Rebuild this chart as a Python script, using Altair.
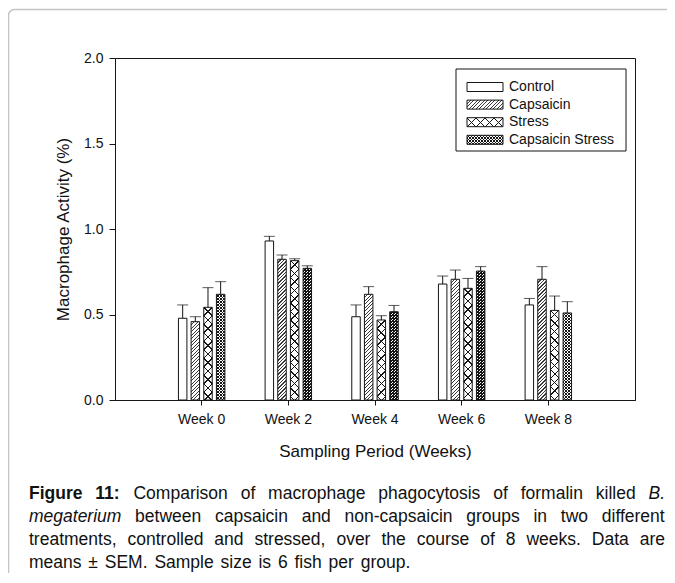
import math
import altair as alt

# ---------------- data ----------------
weeks = ["Week 0", "Week 2", "Week 4", "Week 6", "Week 8"]
groups = ["Control", "Capsaicin", "Stress", "Capsaicin Stress"]

control_mean = [0.478, 0.930, 0.487, 0.678, 0.556]
control_sem = [0.078, 0.027, 0.069, 0.047, 0.038]
capsaicin_mean = [0.458, 0.823, 0.618, 0.706, 0.706]
capsaicin_sem = [0.029, 0.025, 0.045, 0.054, 0.074]
stress_mean = [0.542, 0.815, 0.468, 0.653, 0.524]
stress_sem = [0.115, 0.011, 0.025, 0.058, 0.084]
capstress_mean = [0.618, 0.770, 0.516, 0.754, 0.509]
capstress_sem = [0.074, 0.015, 0.037, 0.026, 0.066]

y_ticks = [0.0, 0.5, 1.0, 1.5, 2.0]
y_title = "Macrophage Activity (%)"
x_title = "Sampling Period (Weeks)"

caption_lines = [
    [("Figure", "bold"), ("11:", "bold"), ("Comparison", "normal"), ("of", "normal"),
     ("macrophage", "normal"), ("phagocytosis", "normal"), ("of", "normal"),
     ("formalin", "normal"), ("killed", "normal"), ("B.", "italic")],
    [("megaterium", "italic"), ("between", "normal"), ("capsaicin", "normal"), ("and", "normal"),
     ("non-capsaicin", "normal"), ("groups", "normal"), ("in", "normal"), ("two", "normal"),
     ("different", "normal")],
    [("treatments,", "normal"), ("controlled", "normal"), ("and", "normal"), ("stressed,", "normal"),
     ("over", "normal"), ("the", "normal"), ("course", "normal"), ("of", "normal"), ("8", "normal"),
     ("weeks.", "normal"), ("Data", "normal"), ("are", "normal")],
    [("means", "normal"), ("±", "normal"), ("SEM.", "normal"), ("Sample", "normal"), ("size", "normal"),
     ("is", "normal"), ("6", "normal"), ("fish", "normal"), ("per", "normal"), ("group.", "normal")],
]

series = {
    "Control": (control_mean, control_sem),
    "Capsaicin": (capsaicin_mean, capsaicin_sem),
    "Stress": (stress_mean, stress_sem),
    "Capsaicin Stress": (capstress_mean, capstress_sem),
}

# ---------------- layout / style ----------------
FONT = "Liberation Sans"
INK = "#151515"
WHITE = "#ffffff"
CLEAR = "rgba(255,255,255,0)"
W, H = 520, 342
Y_MAX = 2.0
PX = H / Y_MAX
PI, PO, SPI = 0.464, 0.732, 0.33
step = W / (len(weeks) - PI + 2 * PO)
band = step * (1 - PI)
BAR_W = band / (len(groups) - SPI) * (1 - SPI)


def stripes(w, h, direction, period, thick, bg, ink=INK):
    """Linear gradient (bounding-box units) that draws 45-degree hatch lines."""
    h = max(h, 1.0)
    L = w + h
    a = (1 / h + 1 / w) / (1 / h ** 2 + 1 / w ** 2)
    if direction == "/":
        x1, y1, x2, y2 = 0, 0, a / h, a / w
        off = 0.0
    else:
        x1, y1, x2, y2 = 0, 1, a / h, 1 - a / w
        off = h % period
    stops = [{"offset": 0, "color": bg}]
    k = -1
    while True:
        s = off + k * period - thick / 2
        if s > L:
            break
        e = s + thick
        s0, e0 = max(s, 0.0), min(e, L)
        if e0 > s0:
            so, eo = round(s0 / L, 5), round(e0 / L, 5)
            stops += [{"offset": so, "color": bg}, {"offset": so, "color": ink},
                      {"offset": eo, "color": ink}, {"offset": eo, "color": bg}]
        k += 1
    stops.append({"offset": 1, "color": bg})
    return {"gradient": "linear", "x1": round(x1, 6), "y1": round(y1, 6),
            "x2": round(x2, 6), "y2": round(y2, 6), "stops": stops}


def fills(group, w, h, big):
    if group == "Control":
        return WHITE, CLEAR
    if group == "Capsaicin":
        return stripes(w, h, "/", 3.5, 1.15, WHITE, "#3a3a3a"), CLEAR
    if group == "Stress":
        return stripes(w, h, "\\", big, 1.3, WHITE), stripes(w, h, "/", big, 1.3, CLEAR)
    return stripes(w, h, "\\", 3.0, 1.2, WHITE), stripes(w, h, "/", 3.0, 1.2, CLEAR)


bar_rows = []
for g in groups:
    means, sems = series[g]
    for i, wk in enumerate(weeks):
        g1, g2 = fills(g, BAR_W, means[i] * PX, BAR_W)
        bar_rows.append({"week": wk, "group": g, "mean": means[i],
                         "upper": means[i] + sems[i], "g1": g1, "g2": g2})

legend_rows = []
for i, g in enumerate(groups):
    g1, g2 = fills(g, 36, 9, 9)
    c = 29 + i * 17.6
    legend_rows.append({"group": g, "g1": g1, "g2": g2, "ly0": c - 4.5, "ly1": c + 4.5, "lyc": c})

# caption word layout (Arial / Liberation Sans advance widths, 1/1000 em)
REG = {" ": 278, ",": 278, "-": 333, ".": 278, ":": 278, "±": 549, "B": 667, "C": 722, "D": 722,
       "E": 667, "F": 611, "M": 833, "S": 667, "a": 556, "b": 556, "c": 500, "d": 556, "e": 556,
       "f": 278, "g": 556, "h": 556, "i": 222, "k": 500, "l": 222, "m": 833, "n": 556, "o": 556,
       "p": 556, "r": 333, "s": 500, "t": 278, "u": 556, "v": 500, "w": 722, "y": 500, "z": 500}
for dgt in "0123456789":
    REG[dgt] = 556
BOLD = {"F": 611, "i": 278, "g": 611, "u": 611, "r": 389, "e": 556, "1": 556, ":": 333}
CAP_FS = 17.5
CAP_L, CAP_R = 29 - 115, 665 - 115
CAP_Y0, CAP_DY = 441, 23
LAST_GAP = 0.39 * CAP_FS


def word_w(word, style):
    table = BOLD if style == "bold" else REG
    return sum(table.get(ch, 556) for ch in word) * CAP_FS / 1000


caption_rows = []
for li, line in enumerate(caption_lines):
    widths = [word_w(t, s) for t, s in line]
    if li < len(caption_lines) - 1:
        gap = (CAP_R - CAP_L - sum(widths)) / (len(line) - 1)
    else:
        gap = LAST_GAP
    xpos = CAP_L
    for (t, s), wdt in zip(line, widths):
        caption_rows.append({"text": t, "style": s, "cx": xpos, "cy": CAP_Y0 + li * CAP_DY})
        xpos += wdt + gap

# ---------------- chart ----------------
one = alt.Data(values=[{}])
bars = alt.Chart(alt.Data(values=bar_rows))
legend = alt.Chart(alt.Data(values=legend_rows))
caption = alt.Chart(alt.Data(values=caption_rows))

x_enc = alt.X("week:N", sort=weeks,
              scale=alt.Scale(domain=weeks, paddingInner=PI, paddingOuter=PO, round=False),
              axis=alt.Axis(title=x_title, labelAngle=0, tickSize=5, labelPadding=7,
                            labelFontSize=14, titleFontSize=17, titleX=W / 2, titleY=51,
                            titleAlign="center", titleBaseline="middle"))
xo_enc = alt.XOffset("group:N", sort=groups,
                     scale=alt.Scale(domain=groups, paddingInner=SPI, paddingOuter=0, round=False))
y_enc = alt.Y("mean:Q", scale=alt.Scale(domain=[0, Y_MAX], nice=False, zero=True),
              axis=alt.Axis(title=y_title, values=y_ticks, format=".1f", tickSize=6, labelPadding=6,
                            labelFontSize=14, titleFontSize=17, titleX=-52, titleY=H / 2,
                            titleAngle=270, titleAlign="center", titleBaseline="middle"))

frame = alt.Chart(one).mark_rect(fill="transparent", stroke="#c4c4c4", strokeWidth=1.5,
                                 cornerRadius=6).encode(
    x=alt.value(-106.5), x2=alt.value(800), y=alt.value(-48.5), y2=alt.value(800))

bars_a = bars.mark_bar(strokeWidth=0).encode(
    x=x_enc, xOffset=xo_enc, y=y_enc, fill=alt.Fill("g1:N", scale=None, legend=None))
bars_b = bars.mark_bar(stroke=INK, strokeWidth=1).encode(
    x=x_enc, xOffset=xo_enc, y=y_enc, fill=alt.Fill("g2:N", scale=None, legend=None))
err = bars.mark_rule(color=INK, strokeWidth=1).encode(
    x=x_enc, xOffset=xo_enc, y="mean:Q", y2="upper:Q")
caps = bars.mark_tick(color=INK, size=11, thickness=1).encode(
    x=x_enc, xOffset=xo_enc, y="upper:Q")

legend_box = alt.Chart(one).mark_rect(fill=WHITE, stroke=INK, strokeWidth=1).encode(
    x=alt.value(341), x2=alt.value(511), y=alt.value(11), y2=alt.value(93))
sw_a = legend.mark_rect(strokeWidth=0).encode(
    x=alt.value(352), x2=alt.value(388),
    y=alt.Y("ly0:Q", scale=None, axis=None), y2="ly1:Q",
    fill=alt.Fill("g1:N", scale=None, legend=None))
sw_b = legend.mark_rect(stroke=INK, strokeWidth=1).encode(
    x=alt.value(352), x2=alt.value(388),
    y=alt.Y("ly0:Q", scale=None, axis=None), y2="ly1:Q",
    fill=alt.Fill("g2:N", scale=None, legend=None))
legend_text = legend.mark_text(align="left", baseline="middle", font=FONT, fontSize=14,
                               color="#111").encode(
    x=alt.value(394), y=alt.Y("lyc:Q", scale=None, axis=None), text="group:N")


def cap_layer(style, **kw):
    return caption.transform_filter(alt.datum.style == style).mark_text(
        align="left", baseline="alphabetic", font=FONT, fontSize=CAP_FS, color="#111", **kw
    ).encode(x=alt.X("cx:Q", scale=None, axis=None), y=alt.Y("cy:Q", scale=None, axis=None),
             text="text:N")


cap_normal = cap_layer("normal")
cap_bold = cap_layer("bold", fontWeight="bold")
cap_italic = cap_layer("italic", fontStyle="italic")

chart = alt.layer(
    frame, bars_a, bars_b, err, caps, legend_box, sw_a, sw_b, legend_text,
    cap_normal, cap_bold, cap_italic
).properties(
    width=W, height=H,
    autosize=alt.AutoSizeParams(type="none"),
    padding={"left": 107, "top": 50, "right": 32, "bottom": 173},
    background="white",
).configure_view(
    stroke=INK, strokeWidth=1
).configure_axis(
    labelFont=FONT, titleFont=FONT, labelColor="#111", titleColor="#111",
    domainColor=INK, tickColor=INK, titleFontWeight="normal", grid=False
)

chart.save("out.html", embed_options={"renderer": "svg", "actions": False})
